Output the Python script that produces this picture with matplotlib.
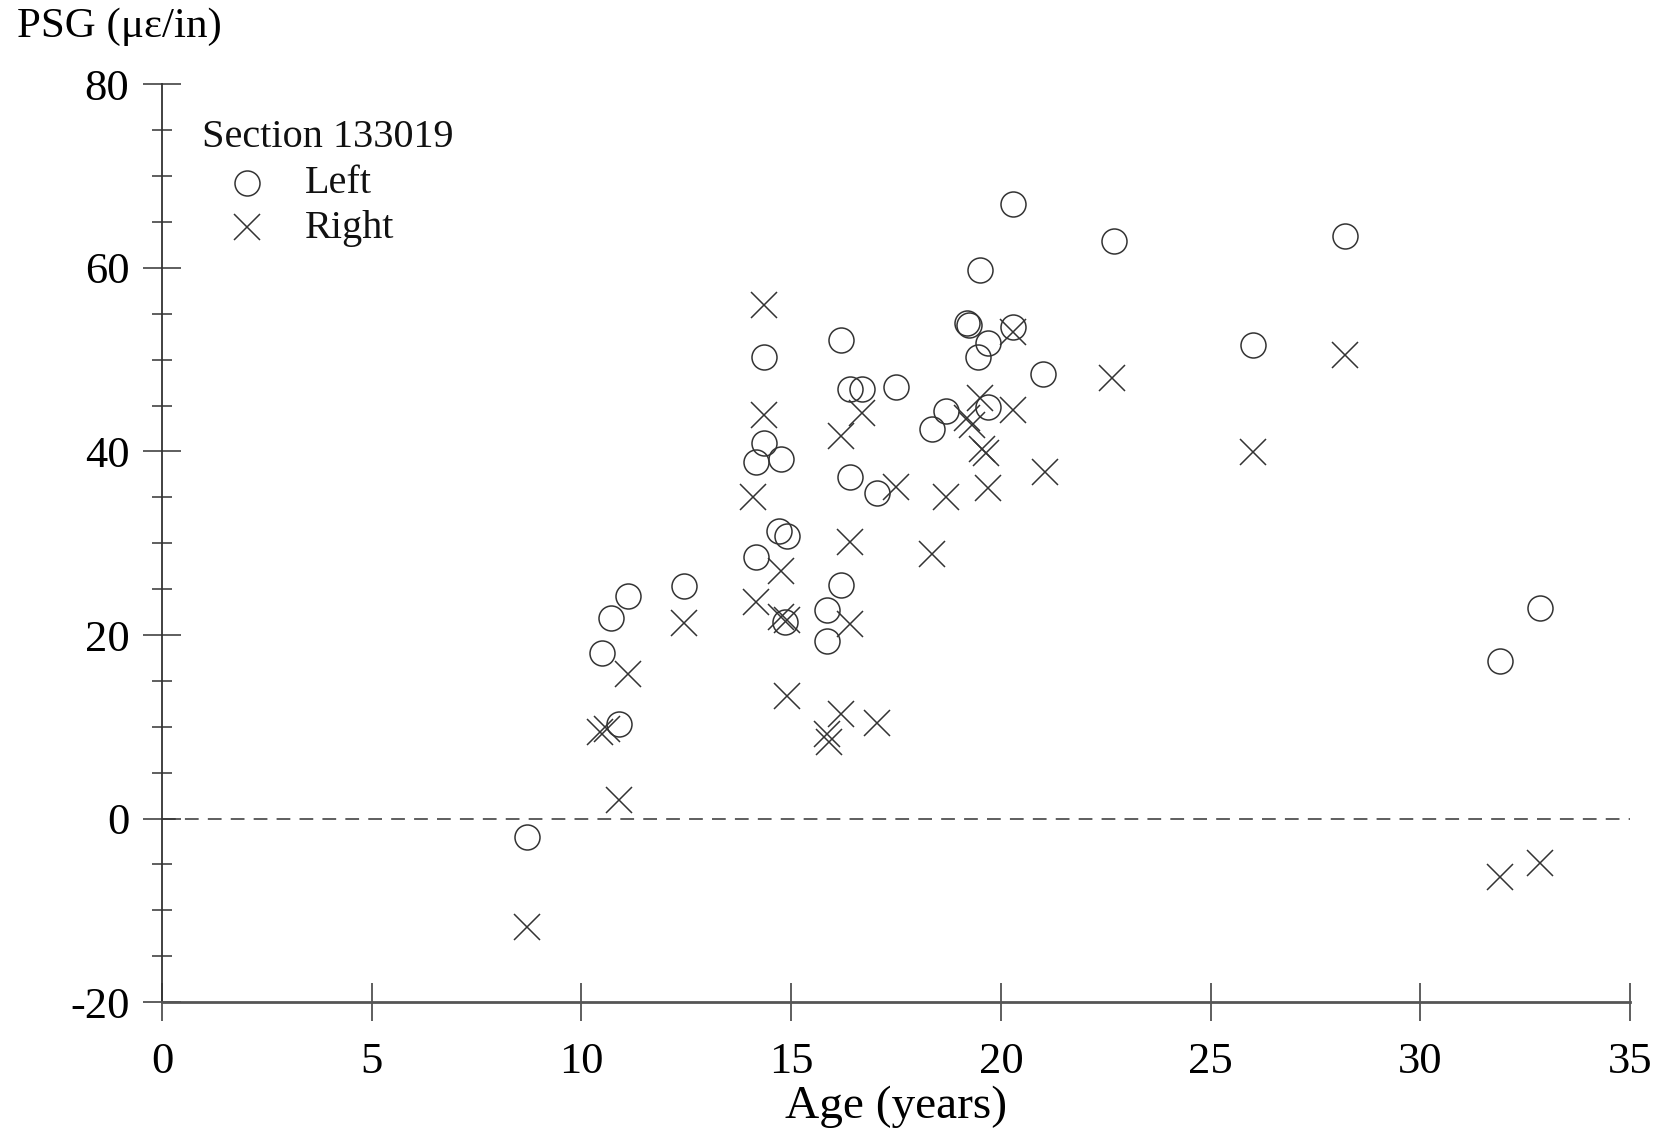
import matplotlib
matplotlib.use("Agg")
import matplotlib.pyplot as plt
import numpy as np
from matplotlib.ticker import MultipleLocator

# values (age in years, PSG in micro-strain/in)
left_age = [8.7, 10.5, 10.7, 10.9, 11.1, 12.45, 14.15, 14.15, 14.35, 14.35,
            14.75, 14.7, 14.9, 14.85, 15.85, 15.85, 16.2, 16.2, 16.4, 16.4,
            16.7, 17.05, 17.5, 18.35, 18.7, 19.2, 19.25, 19.45, 19.5, 19.7,
            19.7, 20.3, 20.3, 21.0, 22.7, 26.0, 28.2, 31.9, 32.85]
left_psg = [-2.0, 18.0, 21.9, 10.3, 24.3, 25.3, 28.5, 38.9, 40.9, 50.3,
            39.2, 31.3, 30.8, 21.4, 22.7, 19.4, 25.5, 52.1, 37.2, 46.8,
            46.8, 35.5, 47.0, 42.5, 44.4, 54.0, 53.8, 50.3, 59.8, 51.8,
            44.8, 53.6, 67.0, 48.4, 62.9, 51.6, 63.5, 17.2, 22.9]

right_age = [8.7, 10.45, 10.6, 10.9, 11.1, 12.45, 14.15, 14.1, 14.35, 14.35,
             14.75, 14.75, 14.9, 14.9, 15.85, 15.9, 16.2, 16.4, 16.4, 16.2,
             16.7, 17.05, 17.5, 18.7, 18.35, 19.2, 19.3, 19.5, 19.55, 19.65,
             19.7, 20.3, 20.3, 21.05, 22.65, 26.0, 28.2, 31.9, 32.85]
right_psg = [-11.8, 9.4, 9.8, 2.0, 15.8, 21.3, 23.6, 35.0, 44.0, 56.0,
             27.0, 22.0, 21.6, 13.4, 9.2, 8.3, 11.4, 21.2, 30.1, 41.7,
             44.2, 10.4, 36.1, 35.0, 28.8, 43.6, 42.9, 45.8, 40.3, 39.8,
             36.0, 53.0, 44.5, 37.8, 48.0, 39.9, 50.5, -6.4, -4.9]

x_ticks = [0, 5, 10, 15, 20, 25, 30, 35]
y_ticks = [-20, 0, 20, 40, 60, 80]

plt.rcParams["font.family"] = ["Liberation Serif", "DejaVu Serif"]
plt.rcParams["axes.unicode_minus"] = False
ink = "#333333"

fig = plt.figure(figsize=(16.57, 11.32), dpi=100)
ax = fig.add_axes([0.0978, 0.1148, 0.8859, 0.8106])

ax.plot(left_age, left_psg, linestyle="none", marker="o", markersize=18,
        markerfacecolor="none", markeredgecolor=ink, markeredgewidth=1.1)
ax.plot(right_age, right_psg, linestyle="none", marker="x", markersize=19,
        color=ink, markeredgewidth=1.1)

ax.axhline(0, color=ink, lw=1.1, linestyle=(0, (9, 6)))

ax.set_xlim(0, 35)
ax.set_ylim(-20, 80)
ax.set_xticks(x_ticks)
ax.set_yticks(y_ticks)
ax.yaxis.set_minor_locator(MultipleLocator(5))

for side in ["top", "right"]:
    ax.spines[side].set_visible(False)
ax.spines["left"].set_linewidth(1.3)
ax.spines["left"].set_color(ink)
ax.spines["bottom"].set_linewidth(2.0)
ax.spines["bottom"].set_color("#555555")

ax.tick_params(axis="x", which="major", direction="inout", length=28,
               width=1.1, color=ink, labelsize=32, pad=15)
ax.tick_params(axis="y", which="major", direction="inout", length=27,
               width=1.1, color=ink, labelsize=32, pad=10)
ax.tick_params(axis="y", which="minor", direction="inout", length=15,
               width=1.1, color=ink)

ax.set_xlabel("Age (years)", fontsize=34)
ax.xaxis.set_label_coords(0.5, -0.1264)
ax.xaxis.label.set_va("baseline")

ax.set_ylabel("PSG (με/in)", fontsize=31, rotation=0)
ax.yaxis.set_label_coords(-0.0988, 1.0518)
ax.yaxis.label.set_ha("left")
ax.yaxis.label.set_va("baseline")

# hand-placed legend block
ax.text(0.0272, 0.9319, "Section 133019", transform=ax.transAxes,
        fontsize=29, va="baseline", ha="left", color="#111111")
ax.plot([0.0579], [0.8926], transform=ax.transAxes, marker="o", markersize=18,
        markerfacecolor="none", markeredgecolor=ink, markeredgewidth=1.1,
        linestyle="none", clip_on=False)
ax.text(0.0974, 0.8817, "Left", transform=ax.transAxes,
        fontsize=29, va="baseline", ha="left", color="#111111")
ax.plot([0.0579], [0.8447], transform=ax.transAxes, marker="x", markersize=19,
        color=ink, markeredgewidth=1.1, linestyle="none", clip_on=False)
ax.text(0.0974, 0.8327, "Right", transform=ax.transAxes,
        fontsize=29, va="baseline", ha="left", color="#111111")

fig.savefig("out.png", dpi=100)
